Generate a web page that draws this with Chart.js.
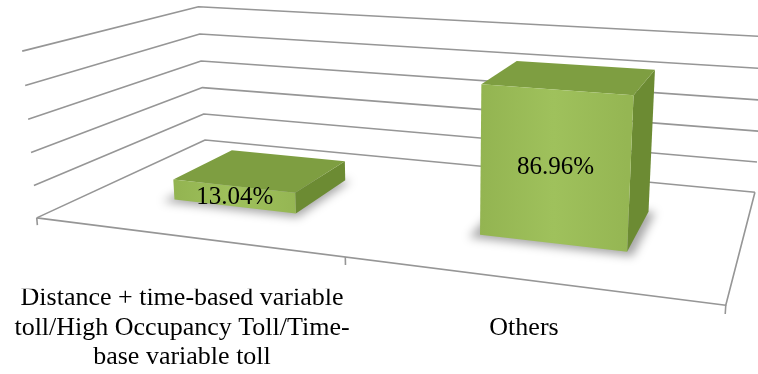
<!DOCTYPE html>
<html>
<head>
<meta charset="utf-8">
<script src="https://cdn.jsdelivr.net/npm/chart.js@4/dist/chart.umd.min.js"></script>
<style>
  html, body { margin: 0; padding: 0; background: #fff; }
  #wrap { width: 758px; height: 374px; }
</style>
</head>
<body>
<div id="wrap"><canvas id="c" width="758" height="374"></canvas></div>
<script>
// Toll type categories (multi-line labels) and their shares in percent
const categories = [
  ['Distance + time-based variable', 'toll/High Occupancy Toll/Time-', 'base variable toll'],
  'Others'
];
const shares = [13.04, 86.96];
const shareLabels = ['13.04%', '86.96%'];
// Value axis: gridline levels
const valueTicks = [0, 20, 40, 60, 80, 100];

const SERIF = '"Liberation Serif", "Times New Roman", serif';

// ---- 3D view: a projective camera fitted to anchor points of the box frame ----
// Each anchor: world [X, Y, Z] (X across, Y up, Z into the page; all 0..1) -> screen [u, v]
const frameAnchors = [
  [0, 0.0, 0, 37, 217], [0, 0.2, 0, 34, 186], [0, 0.4, 0, 31, 153],
  [0, 0.6, 0, 28, 119], [0, 0.8, 0, 25, 85],  [0, 1.0, 0, 22, 52],
  [0, 0.0, 1, 205, 140], [0, 0.2, 1, 203, 114], [0, 0.4, 1, 203, 88],
  [0, 0.6, 1, 201, 61],  [0, 0.8, 1, 201, 33],  [0, 1.0, 1, 198, 7],
  [1, 0.0, 1, 755, 193], [1, 0.0, 0, 726, 305],
  [1, 0.2, 1, 757, 162], [1, 0.4, 1, 759, 131], [1, 0.6, 1, 761, 100],
  [1, 0.8, 1, 763.5, 68], [1, 1.0, 1, 765.5, 37]
];

function fitProjection(pairs) {
  const n = 11;
  const M = Array.from({ length: n }, () => new Array(n + 1).fill(0));
  const addRow = (row, rhs) => {
    for (let i = 0; i < n; i++) {
      for (let j = 0; j < n; j++) M[i][j] += row[i] * row[j];
      M[i][n] += row[i] * rhs;
    }
  };
  for (const [X, Y, Z, u0, v0] of pairs) {
    const u = u0 / 100, v = v0 / 100;
    addRow([X, Y, Z, 1, 0, 0, 0, 0, -u * X, -u * Y, -u * Z], u);
    addRow([0, 0, 0, 0, X, Y, Z, 1, -v * X, -v * Y, -v * Z], v);
  }
  for (let c = 0; c < n; c++) {
    let p = c;
    for (let r = c + 1; r < n; r++) if (Math.abs(M[r][c]) > Math.abs(M[p][c])) p = r;
    [M[c], M[p]] = [M[p], M[c]];
    for (let r = 0; r < n; r++) {
      if (r === c) continue;
      const f = M[r][c] / M[c][c];
      for (let k = c; k <= n; k++) M[r][k] -= f * M[c][k];
    }
  }
  const P = M.map((row, i) => row[n] / row[i]);
  return (X, Y, Z) => {
    const w = P[8] * X + P[9] * Y + P[10] * Z + 1;
    return {
      x: 100 * (P[0] * X + P[1] * Y + P[2] * Z + P[3]) / w,
      y: 100 * (P[4] * X + P[5] * Y + P[6] * Z + P[7]) / w
    };
  };
}
const project = fitProjection(frameAnchors);

// Depth of the columns inside the box
const BAR_Z0 = 0.3, BAR_Z1 = 0.68;

function poly(ctx, pts) {
  ctx.beginPath();
  pts.forEach((p, i) => (i ? ctx.lineTo(p.x, p.y) : ctx.moveTo(p.x, p.y)));
  ctx.closePath();
}
function line(ctx, a, b) {
  ctx.beginPath();
  ctx.moveTo(a.x, a.y);
  ctx.lineTo(b.x, b.y);
  ctx.stroke();
}

const box3d = {
  id: 'box3d',
  afterDatasetsDraw(chart) {
    const ctx = chart.ctx;
    const area = chart.chartArea;
    const ys = chart.scales.y;
    const nx = px => (px - area.left) / area.width;
    const ny = py => (area.bottom - py) / area.height;

    ctx.save();
    ctx.lineWidth = 1.6;
    ctx.strokeStyle = '#969696';
    ctx.lineJoin = 'round';

    // Gridlines on the side wall and the back wall
    valueTicks.forEach(t => {
      const Y = ny(ys.getPixelForValue(t));
      const a = project(0, Y, 0), b = project(0, Y, 1), c = project(1, Y, 1);
      ctx.beginPath();
      ctx.moveTo(a.x, a.y); ctx.lineTo(b.x, b.y); ctx.lineTo(c.x, c.y);
      ctx.stroke();
    });
    // Floor front and right edges
    const f0 = project(0, 0, 0), f1 = project(1, 0, 0), f2 = project(1, 0, 1);
    ctx.beginPath();
    ctx.moveTo(f0.x, f0.y); ctx.lineTo(f1.x, f1.y); ctx.lineTo(f2.x, f2.y);
    ctx.stroke();
    // Category tick marks along the front edge
    const nCat = categories.length;
    for (let i = 0; i <= nCat; i++) {
      const X = i / nCat;
      line(ctx, project(X, 0, 0), project(X, -0.045, 0));
    }

    // Columns
    const meta = chart.getDatasetMeta(0);
    meta.data.forEach((el, i) => {
      const x0 = nx(el.x - el.width / 2), x1 = nx(el.x + el.width / 2);
      const top = ny(el.y);
      const z0 = BAR_Z0, z1 = BAR_Z1;
      const P = (X, Y, Z) => project(X, Y, Z);

      // soft shadow around the base
      ctx.save();
      ctx.filter = 'blur(5px)';
      ctx.fillStyle = 'rgba(0,0,0,0.35)';
      poly(ctx, [P(x0 - 0.012, 0, z0 - 0.03), P(x1 + 0.01, 0, z0 - 0.03), P(x1 + 0.01, 0, z1), P(x0 - 0.012, 0, z1)]);
      ctx.fill();
      ctx.restore();

      const fbl = P(x0, 0, z0), fbr = P(x1, 0, z0), ftr = P(x1, top, z0), ftl = P(x0, top, z0);
      const bbr = P(x1, 0, z1), btr = P(x1, top, z1), btl = P(x0, top, z1);

      // right side face
      ctx.fillStyle = '#6c8b33';
      poly(ctx, [fbr, bbr, btr, ftr]);
      ctx.fill();
      // top face
      ctx.fillStyle = '#7e9e41';
      poly(ctx, [ftl, ftr, btr, btl]);
      ctx.fill();
      // front face
      const g = ctx.createLinearGradient(fbl.x, 0, fbr.x, 0);
      g.addColorStop(0, '#93b451');
      g.addColorStop(0.5, '#9fc15c');
      g.addColorStop(1, '#95b653');
      ctx.fillStyle = g;
      poly(ctx, [fbl, fbr, ftr, ftl]);
      ctx.fill();

      // value label centred on the front face
      const cx = (fbl.x + fbr.x + ftr.x + ftl.x) / 4;
      const cy = (fbl.y + fbr.y + ftr.y + ftl.y) / 4;
      ctx.fillStyle = '#000';
      ctx.font = '25px ' + SERIF;
      ctx.textAlign = 'center';
      ctx.textBaseline = 'middle';
      ctx.fillText(shareLabels[i], cx, cy + 1);
    });
    ctx.restore();
  }
};

function build() {
  new Chart(document.getElementById('c'), {
    type: 'bar',
    data: {
      labels: categories,
      datasets: [{
        data: shares,
        backgroundColor: 'rgba(0,0,0,0)',
        borderWidth: 0,
        categoryPercentage: 1,
        barPercentage: 0.42
      }]
    },
    options: {
      responsive: false,
      animation: false,
      devicePixelRatio: 1,
      layout: { padding: { left: 11, right: 63, top: 0, bottom: -22 } },
      plugins: { legend: { display: false }, tooltip: { enabled: false } },
      scales: {
        x: {
          grid: { display: false, drawTicks: false },
          border: { display: false },
          ticks: {
            color: '#000',
            font: { family: SERIF, size: 26, lineHeight: 1.12 },
            maxRotation: 0, minRotation: 0, autoSkip: false,
            crossAlign: 'center',
            padding: 10
          }
        },
        y: { display: false, min: 0, max: 100 }
      }
    },
    plugins: [box3d]
  });
}

if (document.fonts && document.fonts.load) {
  document.fonts.load('26px "Liberation Serif"').then(build, build);
} else {
  build();
}
</script>
</body>
</html>
